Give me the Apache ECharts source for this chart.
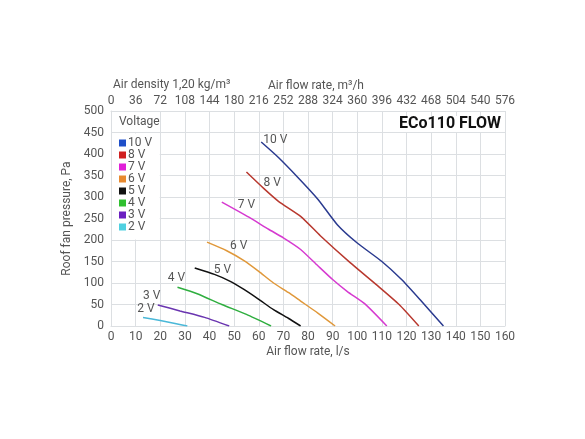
<!DOCTYPE html>
<html>
<head>
<meta charset="utf-8">
<script src="https://cdn.jsdelivr.net/npm/echarts@6/dist/echarts.min.js"></script>
<style>
  html, body { margin: 0; padding: 0; background: #fff; }
  #chart { width: 585px; height: 439px; }
</style>
</head>
<body>
<div id="chart"></div>
<script>
const voltages = ['10 V', '8 V', '7 V', '6 V', '5 V', '4 V', '3 V', '2 V']
const lineColors = ['#2a3a8f', '#b8382e', '#d63ad0', '#e0983a', '#111111', '#2fae3f', '#6a35b0', '#4ab8d8']
const iconColors = ['#1f4fc8', '#d02020', '#e020d8', '#e88a30', '#111111', '#30c030', '#6a1fc0', '#50d0e0']

// [air flow l/s, pressure Pa]
const curve10 = [[61, 428], [68, 392], [76, 345], [84, 295], [92, 235], [100, 193], [110, 150], [118, 108], [126, 58], [135, 0]]
const curve8 = [[55, 358], [62, 320], [68, 290], [77, 255], [85, 210], [97, 148], [108, 95], [117, 50], [125, 0]]
const curve7 = [[45, 288], [56, 253], [64, 225], [70, 205], [77, 178], [84, 140], [90, 108], [96, 80], [103, 52], [112, 0]]
const curve6 = [[39, 195], [47, 175], [54, 152], [60, 127], [66, 100], [72, 78], [77, 58], [84, 30], [91, 0]]
const curve5 = [[34, 135], [42, 120], [48, 105], [54, 85], [60, 62], [66, 38], [72, 18], [77, 0]]
const curve4 = [[27, 90], [35, 75], [45, 50], [55, 27], [65, 0]]
const curve3 = [[19, 49], [28, 35], [38, 20], [48, 0]]
const curve2 = [[13, 20], [20, 13], [26, 6], [31, 0]]
const curves = [curve10, curve8, curve7, curve6, curve5, curve4, curve3, curve2]

// where the voltage tag sits next to the first point of each curve
const tagPlace = [
  { position: 'right', offset: [-3, -2] },
  { position: 'right', offset: [12, 11] },
  { position: 'right', offset: [11, 3] },
  { position: 'right', offset: [18, 4] },
  { position: 'right', offset: [14, 2] },
  { position: 'top', offset: [-1, 2] },
  { position: 'top', offset: [-6, 2] },
  { position: 'top', offset: [3, 3] }
]

const font = 'Roboto'
const grey = '#555'
const gridLine = '#dcdfe2'

const chart = echarts.init(document.getElementById('chart'))

const series = voltages.map((v, i) => ({
  name: v,
  type: 'line',
  showSymbol: true,
  symbol: 'circle',
  symbolSize: 0,
  smooth: 0.2,
  z: 5,
  itemStyle: { color: iconColors[i] },
  lineStyle: { color: lineColors[i], width: 1.5 },
  data: curves[i].map((p, j) => j === 0 ? {
    value: p,
    label: {
      show: true,
      formatter: v,
      position: tagPlace[i].position,
      offset: tagPlace[i].offset,
      color: grey,
      fontFamily: font,
      fontSize: 12
    }
  } : p)
}))

const option = {
  backgroundColor: '#fff',
  animation: false,
  textStyle: { fontFamily: font },
  title: [
    {
      text: 'ECo110 FLOW',
      right: 81,
      top: 116,
      padding: [0, 3, 0, 4],
      backgroundColor: '#fff',
      textStyle: { fontFamily: font, fontSize: 16, fontWeight: 'bold', color: '#111', lineHeight: 16 }
    },
    {
      text: 'Air density 1,20 kg/m³',
      left: 113,
      top: 79,
      padding: 0,
      textStyle: { fontFamily: font, fontSize: 12, fontWeight: 'normal', color: grey }
    }
  ],
  legend: {
    orient: 'vertical',
    left: 112,
    top: 137,
    itemGap: 0,
    itemWidth: 7,
    itemHeight: 7,
    icon: 'rect',
    padding: [0, 0, 0, 7],
    textStyle: { fontFamily: font, fontSize: 12, color: grey, lineHeight: 12, padding: [0, 0, 0, -3] },
    data: voltages.map((v, i) => ({ name: v, itemStyle: { color: iconColors[i] } })),
    selectedMode: false
  },
  grid: { left: 111, right: 80, top: 111, bottom: 113 },
  xAxis: [
    {
      type: 'value',
      position: 'bottom',
      min: 0,
      max: 160,
      interval: 10,
      name: 'Air flow rate, l/s',
      nameLocation: 'middle',
      nameGap: 20,
      nameTextStyle: { fontFamily: font, fontSize: 12, color: grey },
      axisLine: { lineStyle: { color: gridLine } },
      axisTick: { show: false },
      axisLabel: { fontFamily: font, fontSize: 12, color: grey, margin: 5 },
      splitLine: { lineStyle: { color: gridLine } }
    },
    {
      type: 'value',
      position: 'top',
      min: 0,
      max: 576,
      interval: 36,
      name: 'Air flow rate, m³/h',
      nameLocation: 'middle',
      nameGap: 19,
      nameTextStyle: { fontFamily: font, fontSize: 12, color: grey, padding: [0, 0, 0, 16] },
      axisLine: { lineStyle: { color: gridLine } },
      axisTick: { show: false },
      axisLabel: { fontFamily: font, fontSize: 12, color: grey, margin: 4 },
      splitLine: { show: false }
    }
  ],
  yAxis: {
    type: 'value',
    min: 0,
    max: 500,
    interval: 50,
    name: 'Roof fan pressure, Pa',
    nameLocation: 'middle',
    nameGap: 28,
    nameTextStyle: { fontFamily: font, fontSize: 12, color: grey },
    axisLine: { show: true, lineStyle: { color: gridLine } },
    axisTick: { show: false },
    axisLabel: { fontFamily: font, fontSize: 12, color: grey, margin: 7 },
    splitLine: { lineStyle: { color: gridLine } }
  },
  series
}

chart.setOption(option)

// white panel behind the legend, split by the 450 Pa grid line
const a = chart.convertToPixel({ xAxisIndex: 0, yAxisIndex: 0 }, [0, 500])
const b = chart.convertToPixel({ xAxisIndex: 0, yAxisIndex: 0 }, [20, 450])
const c = chart.convertToPixel({ xAxisIndex: 0, yAxisIndex: 0 }, [20, 200])
chart.setOption({
  graphic: [
    { type: 'rect', z: 1, shape: { x: a[0] + 1, y: a[1] + 1, width: b[0] - a[0] - 1.5, height: b[1] - a[1] - 1.5 }, style: { fill: '#fff' } },
    { type: 'rect', z: 1, shape: { x: a[0] + 1, y: b[1] + 1, width: c[0] - a[0] - 1.5, height: c[1] - b[1] - 1.5 }, style: { fill: '#fff' } },
    { type: 'text', z: 2, x: a[0] + 8, y: (a[1] + b[1]) / 2, style: { text: 'Voltage', fill: grey, font: '12px Roboto', verticalAlign: 'middle' } }
  ]
})
</script>
</body>
</html>
